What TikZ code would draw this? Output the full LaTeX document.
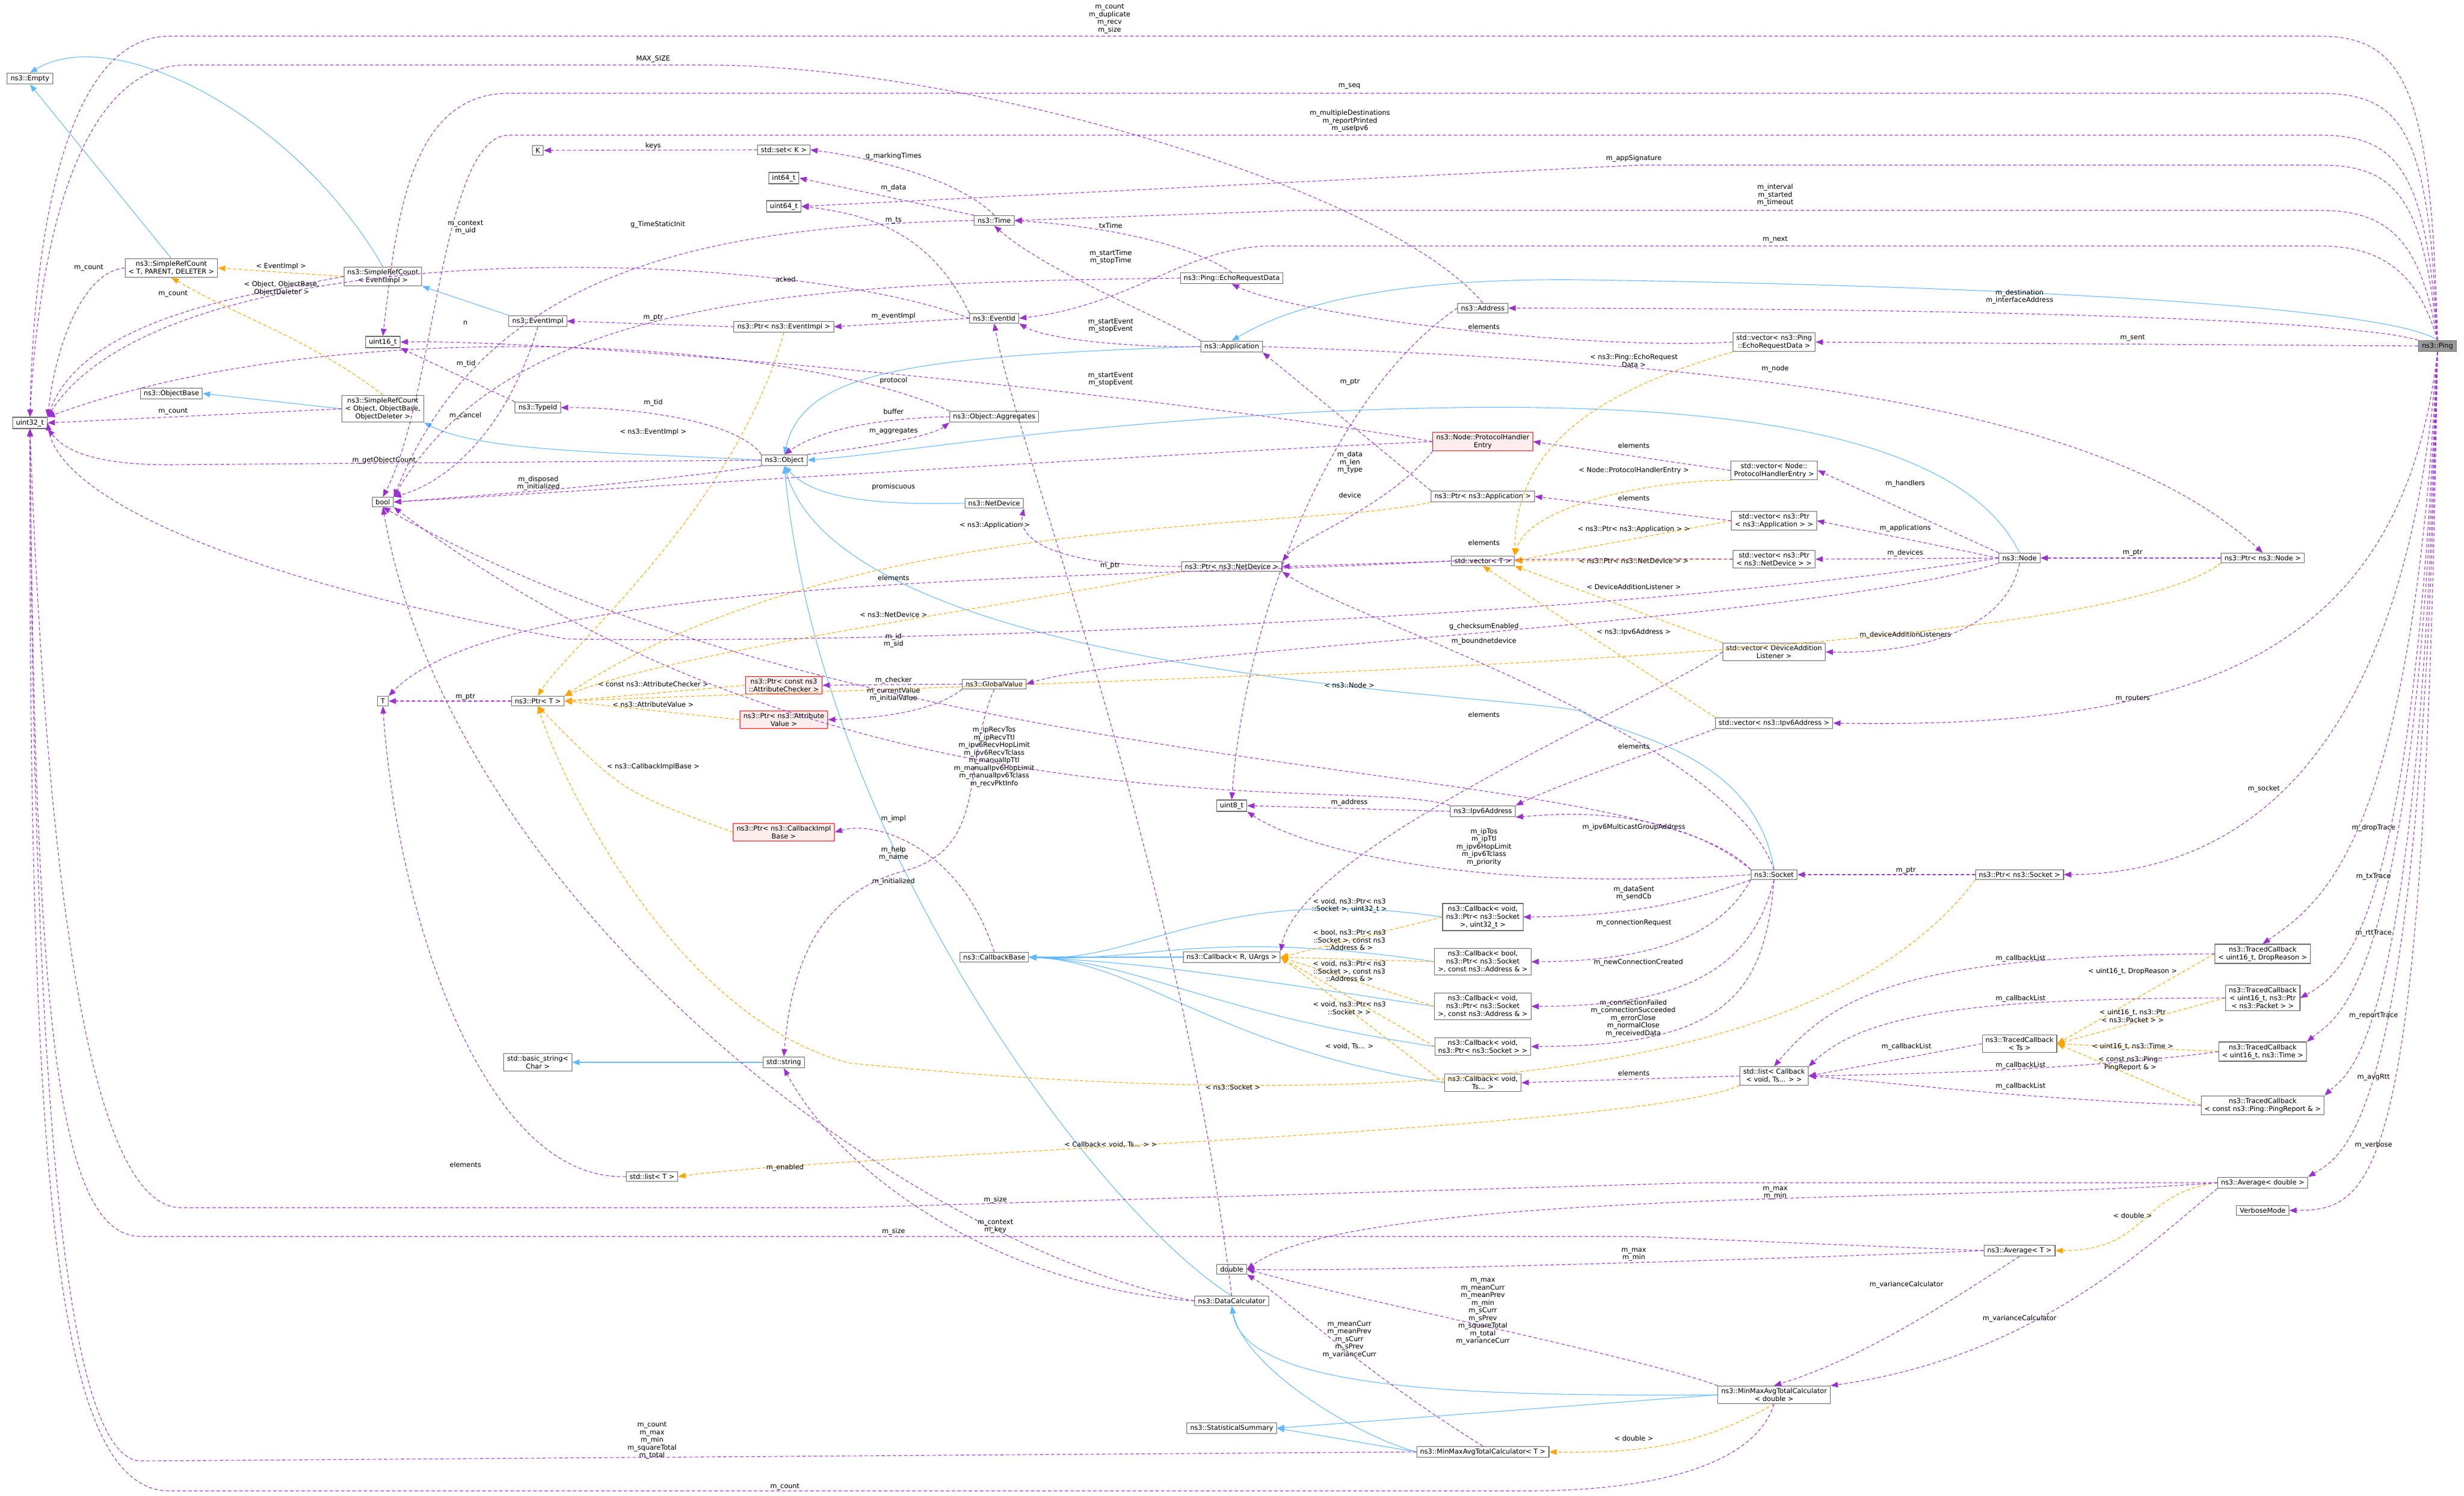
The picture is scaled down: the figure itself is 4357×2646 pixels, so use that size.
\documentclass[tikz,border=0pt]{standalone}
\usepackage{fontspec}
\setmainfont{DejaVu Sans}
\usetikzlibrary{arrows.meta}
\definecolor{pur}{HTML}{9A32CD}
\definecolor{blu}{HTML}{63B8FF}
\definecolor{org}{HTML}{FFA500}
\tikzset{
 cls/.style={draw=black!60, fill=white, line width=1.1pt, font=\fontsize{12}{14}\selectfont, inner xsep=6pt, inner ysep=4pt, align=center},
 redc/.style={cls, draw=red, fill=red!7},
 pingc/.style={cls, fill=black!40},
 usesl/.style={draw=pur, line width=1.1pt, dash pattern=on 6pt off 4pt, -{Triangle[length=13pt,width=10pt]}},
 inh/.style={draw=blu, line width=1.1pt, -{Triangle[length=13pt,width=10pt]}},
 tpl/.style={draw=org, line width=1.1pt, dash pattern=on 6pt off 4pt, -{Triangle[length=13pt,width=10pt]}},
 lbl/.style={font=\fontsize{12}{13.5}\selectfont, align=center, inner sep=1pt},
}
\begin{document}
\begin{tikzpicture}[x=1pt,y=-1pt]
\useasboundingbox (0,0) rectangle (4357,2646);
% nodes
\node[cls] (empty) at (53,139) {ns3::Empty};
\node[cls] (u32) at (53,748) {uint32\_t};
\node[cls] (srcT) at (303,474) {ns3::SimpleRefCount\\< T, PARENT, DELETER >};
\node[cls] (srcE) at (677,489) {ns3::SimpleRefCount\\< EventImpl >};
\node[cls] (objbase) at (303,696) {ns3::ObjectBase};
\node[cls] (srcO) at (677,723) {ns3::SimpleRefCount\\< Object, ObjectBase,\\ ObjectDeleter >};
\node[cls] (u16) at (677,605) {uint16\_t};
\node[cls] (evimpl) at (951,568) {ns3::EventImpl};
\node[cls] (typeid) at (951,721) {ns3::TypeId};
\node[cls] (bool) at (677,888) {bool};
\node[cls] (object) at (1387,814) {ns3::Object};
\node[cls] (K) at (951,266) {K};
\node[cls] (setK) at (1386,265) {std::set< K >};
\node[cls] (i64) at (1386,315) {int64\_t};
\node[cls] (u64) at (1386,365) {uint64\_t};
\node[cls] (ptrEv) at (1386,578) {ns3::Ptr< ns3::EventImpl >};
\node[cls] (time) at (1758,390) {ns3::Time};
\node[cls] (echo) at (2178,492) {ns3::Ping::EchoRequestData};
\node[cls] (evid) at (1758,563) {ns3::EventId};
\node[cls] (app) at (2178,613) {ns3::Application};
\node[cls] (addr) at (2622,545) {ns3::Address};
\node[cls] (aggr) at (1758,737) {ns3::Object::Aggregates};
\node[redc] (phe) at (2622,781) {ns3::Node::ProtocolHandler\\Entry};
\node[cls] (ptrApp) at (2622,878) {ns3::Ptr< ns3::Application >};
\node[cls] (netdev) at (1758,890) {ns3::NetDevice};
\node[cls] (vecT) at (2622,992) {std::vector< T >};
\node[cls] (vecEcho) at (3137,605) {std::vector< ns3::Ping\\::EchoRequestData >};
\node[pingc] (ping) at (4310,612) {ns3::Ping};
\node[cls] (vecPhe) at (3137,832) {std::vector< Node::\\ProtocolHandlerEntry >};
\node[cls] (vecApp) at (3137,921) {std::vector< ns3::Ptr\\< ns3::Application > >};
\node[cls] (vecDev) at (3137,989) {std::vector< ns3::Ptr\\< ns3::NetDevice > >};
\node[cls] (node) at (3571,987) {ns3::Node};
\node[cls] (ptrNode) at (4001,987) {ns3::Ptr< ns3::Node >};
\node[cls] (T) at (677,1240) {T};
\node[cls] (ptrT) at (951,1240) {ns3::Ptr< T >};
\node[redc] (ptrChk) at (1386,1212) {ns3::Ptr< const ns3\\::AttributeChecker >};
\node[redc] (ptrVal) at (1386,1273) {ns3::Ptr< ns3::Attribute\\Value >};
\node[redc] (ptrCIB) at (1386,1472) {ns3::Ptr< ns3::CallbackImpl\\Base >};
\node[cls] (bstr) at (951,1879) {std::basic\_string<\\Char >};
\node[cls] (str) at (1386,1879) {std::string};
\node[cls] (listT) at (1153,2081) {std::list< T >};
\node[cls] (ptrDev) at (2178,1002) {ns3::Ptr< ns3::NetDevice >};
\node[cls] (gv) at (1758,1210) {ns3::GlobalValue};
\node[cls] (u8) at (2178,1425) {uint8\_t};
\node[cls] (ipv6) at (2622,1435) {ns3::Ipv6Address};
\node[cls] (cbb) at (1758,1693) {ns3::CallbackBase};
\node[cls] (cbR) at (2178,1693) {ns3::Callback< R, UArgs >};
\node[cls] (cb1) at (2622,1622) {ns3::Callback< void,\\ ns3::Ptr< ns3::Socket\\ >, uint32\_t >};
\node[cls] (cb2) at (2622,1701) {ns3::Callback< bool,\\ ns3::Ptr< ns3::Socket\\ >, const ns3::Address \& >};
\node[cls] (cb3) at (2622,1780) {ns3::Callback< void,\\ ns3::Ptr< ns3::Socket\\ >, const ns3::Address \& >};
\node[cls] (cb4) at (2622,1851) {ns3::Callback< void,\\ ns3::Ptr< ns3::Socket > >};
\node[cls] (cb5) at (2622,1915) {ns3::Callback< void,\\ Ts... >};
\node[cls] (dbl) at (2178,2245) {double};
\node[cls] (dcalc) at (2178,2301) {ns3::DataCalculator};
\node[cls] (stat) at (2178,2526) {ns3::StatisticalSummary};
\node[cls] (mmT) at (2622,2568) {ns3::MinMaxAvgTotalCalculator< T >};
\node[cls] (vecDal) at (3137,1153) {std::vector< DeviceAddition\\Listener >};
\node[cls] (vecIp6) at (3137,1279) {std::vector< ns3::Ipv6Address >};
\node[cls] (socket) at (3137,1547) {ns3::Socket};
\node[cls] (ptrSock) at (3571,1547) {ns3::Ptr< ns3::Socket >};
\node[cls] (tcDrop) at (4001,1687) {ns3::TracedCallback\\< uint16\_t, DropReason >};
\node[cls] (tcPkt) at (4001,1765) {ns3::TracedCallback\\< uint16\_t, ns3::Ptr\\< ns3::Packet > >};
\node[cls] (tcTs) at (3571,1846) {ns3::TracedCallback\\< Ts >};
\node[cls] (tcTime) at (4001,1860) {ns3::TracedCallback\\< uint16\_t, ns3::Time >};
\node[cls] (listCb) at (3137,1903) {std::list< Callback\\< void, Ts... > >};
\node[cls] (tcRep) at (4001,1955) {ns3::TracedCallback\\< const ns3::Ping::PingReport \& >};
\node[cls] (avgD) at (4001,2092) {ns3::Average< double >};
\node[cls] (verb) at (4001,2141) {VerboseMode};
\node[cls] (avgT) at (3571,2212) {ns3::Average< T >};
\node[cls] (mmD) at (3137,2467) {ns3::MinMaxAvgTotalCalculator\\< double >};

% inheritance
\draw[inh] (srcT.north) -- (empty.south);
\draw[inh] (srcE.north) .. controls (520,200) and (200,40) .. (empty.north);
\draw[inh] (evimpl.north west) -- (srcE.south east);
\draw[inh] (srcO.west) -- (objbase.east);
\draw[inh] (object.west) .. controls (1100,800) and (850,800) .. (srcO.south east);
\draw[inh] (app.west) .. controls (1600,630) and (1420,660) .. (object.north);
\draw[inh] (node.north) .. controls (3450,730) and (2900,700) .. (2300,730) .. controls (1800,760) and (1600,800) .. (object.east);
\draw[inh] (netdev.west) .. controls (1500,895) and (1430,870) .. (object.south);
\draw[inh] (socket.north) .. controls (3100,1320) and (2850,1300) .. (2800,1260) .. controls (2750,1230) and (1500,1210) .. (object.south);
\draw[inh] (dcalc.north) .. controls (1950,2150) and (1450,1500) .. (object.south);
\draw[inh] (ping.north) .. controls (4220,540) and (3500,505) .. (2800,495) .. controls (2400,490) and (2250,560) .. (app.north);
\draw[inh] (cbR.west) -- (cbb.east);
\foreach \c in {cb1,cb2,cb3,cb4,cb5} \draw[inh] (\c.west) .. controls +(-400,-60) and +(200,10) .. (cbb.east);
\draw[inh] (str.west) -- (bstr.east);
\draw[inh] (mmD.west) .. controls (2600,2470) and (2200,2460) .. (dcalc.south);
\draw[inh] (mmD.west) -- (stat.east);
\draw[inh] (mmT.west) .. controls (2400,2540) and (2200,2420) .. (dcalc.south);
\draw[inh] (mmT.west) -- (stat.east);

% templates
\draw[tpl] (srcE.west) -- (srcT.east);
\draw[tpl] (srcO.north) .. controls (550,600) and (420,560) .. (srcT.south);
\draw[tpl] (ptrEv.south) .. controls (1300,900) and (1000,1150) .. (ptrT.north);
\draw[tpl] (ptrChk.west) -- (ptrT.east);
\draw[tpl] (ptrVal.west) -- (ptrT.east);
\draw[tpl] (ptrCIB.west) .. controls (1100,1400) .. (ptrT.south);
\draw[tpl] (ptrApp.south west) .. controls (2300,940) and (1500,900) .. (ptrT.north east);
\draw[tpl] (ptrDev.south west) .. controls (1800,1070) and (1200,1150) .. (ptrT.north east);
\draw[tpl] (ptrNode.south west) .. controls (3700,1170) and (2000,1200) .. (ptrT.east);
\draw[tpl] (ptrSock.south west) .. controls (3200,1950) and (2300,1960) .. (1500,1880) .. controls (1200,1800) and (1000,1400) .. (ptrT.south);
\draw[tpl] (vecEcho.south west) .. controls (2800,700) and (2680,800) .. (vecT.north east);
\draw[tpl] (vecPhe.south west) .. controls (2900,850) and (2700,900) .. (vecT.north east);
\draw[tpl] (vecApp.west) -- (vecT.east);
\draw[tpl] (vecDev.west) -- (vecT.east);
\draw[tpl] (vecDal.north west) -- (vecT.south east);
\draw[tpl] (vecIp6.north west) -- (vecT.south);
\foreach \c in {cb1,cb2,cb3,cb4,cb5} \draw[tpl] (\c.west) -- (cbR.east);
\draw[tpl] (listCb.south west) .. controls (2900,2000) and (1500,2040) .. (listT.east);
\foreach \c in {tcDrop,tcPkt,tcTime,tcRep} \draw[tpl] (\c.west) -- (tcTs.east);
\draw[tpl] (avgD.west) .. controls (3780,2110) and (3800,2212) .. (avgT.east);
\draw[tpl] (mmD.south) .. controls (3000,2560) and (2900,2570) .. (mmT.east);

% uses: ping top routes
\draw[usesl] (ping.north) .. controls (4300,150) and (4250,64) .. (4100,64) -- (300,64) .. controls (120,64) and (60,400) .. (u32.north);
\draw[usesl] (addr.north) .. controls (2450,330) and (1700,115) .. (1250,115) -- (330,115) .. controls (150,115) and (70,400) .. (u32.north);
\draw[usesl] (ping.north) .. controls (4295,230) and (4250,165) .. (4100,165) -- (900,165) .. controls (720,165) and (700,400) .. (u16.north);
\draw[usesl] (ping.north) .. controls (4290,300) and (4240,239) .. (4100,239) -- (900,239) .. controls (780,239) and (770,700) .. (bool.north);
\draw[usesl] (ping.north) .. controls (4285,340) and (4230,292) .. (4100,292) -- (2900,292) -- (u64.east);
\draw[usesl] (ping.north) .. controls (4280,420) and (4220,372) .. (4100,372) -- (2300,372) -- (time.east);
\draw[usesl] (ping.north) .. controls (4275,480) and (4210,435) .. (4100,435) -- (2250,435) .. controls (2100,435) and (2000,540) .. (evid.east);
\draw[usesl] (ping.north west) .. controls (4150,565) and (3500,545) .. (addr.east);
\draw[usesl] (ping.west) -- (vecEcho.east);
\draw[usesl] (ping.south) .. controls (4250,1150) and (3900,1290) .. (vecIp6.east);
\draw[usesl] (ping.south) .. controls (4250,1420) and (3900,1545) .. (ptrSock.east);
\draw[usesl] (ping.south) .. controls (4265,1500) and (4100,1600) .. (tcDrop.north);
\draw[usesl] (ping.south) .. controls (4270,1620) and (4150,1720) .. (tcPkt.east);
\draw[usesl] (ping.south) .. controls (4275,1760) and (4130,1800) .. (tcTime.north east);
\draw[usesl] (ping.south) .. controls (4280,1860) and (4150,1900) .. (tcRep.north east);
\draw[usesl] (ping.south) .. controls (4285,1980) and (4150,2040) .. (avgD.north east);
\draw[usesl] (ping.south) .. controls (4290,2100) and (4200,2140) .. (verb.east);
% uses: others
\draw[usesl] (srcT.west) .. controls (150,480) and (100,600) .. (u32.north east);
\draw[usesl] (srcE.west) .. controls (450,520) and (150,560) .. (u32.north east);
\draw[usesl] (srcO.west) -- (u32.east);
\draw[usesl] (object.west) -- (300,822) .. controls (150,822) and (110,790) .. (u32.south east);
\draw[usesl] (object.south west) .. controls (1100,860) and (800,880) .. (bool.east);
\draw[usesl] (object.north west) .. controls (1300,740) and (1100,720) .. (typeid.east);
\draw[usesl] (typeid.north west) -- (u16.south east);
\draw[usesl] (object.north east) .. controls (1550,790) and (1650,770) .. (aggr.south west);
\draw[usesl] (aggr.west) .. controls (1550,740) and (1450,760) .. (object.north);
\draw[usesl] (aggr.north west) .. controls (1400,600) and (600,550) .. (u32.north east);
\draw[usesl] (evimpl.south) .. controls (900,750) and (800,850) .. (bool.north east);
\draw[usesl] (ptrEv.west) -- (evimpl.east);
\draw[usesl] (evid.west) -- (ptrEv.east);
\draw[usesl] (evid.north west) .. controls (1650,420) and (1550,380) .. (u64.east);
\draw[usesl] (evid.west) .. controls (1400,440) and (300,400) .. (u32.north east);
\draw[usesl] (time.west) .. controls (1200,400) and (850,500) .. (bool.north east);
\draw[usesl] (time.north west) -- (i64.east);
\draw[usesl] (time.north) .. controls (1700,320) and (1550,280) .. (setK.east);
\draw[usesl] (setK.west) -- (K.east);
\draw[usesl] (echo.north) .. controls (2100,430) and (1950,400) .. (time.east);
\draw[usesl] (echo.west) .. controls (1400,500) and (900,530) .. (bool.north east);
\draw[usesl] (app.north west) .. controls (2050,560) and (1850,480) .. (time.south);
\draw[usesl] (app.west) .. controls (2000,615) and (1850,600) .. (evid.south east);
\draw[usesl] (app.east) .. controls (3000,640) and (3700,700) .. (ptrNode.north);
\draw[usesl] (ptrApp.north west) -- (app.south east);
\draw[usesl] (phe.west) .. controls (2000,690) and (1000,600) .. (u16.east);
\draw[usesl] (phe.west) .. controls (2100,800) and (1000,870) .. (bool.east);
\draw[usesl] (phe.south west) .. controls (2450,900) and (2300,950) .. (ptrDev.north east);
\draw[usesl] (vecPhe.west) -- (phe.east);
\draw[usesl] (vecApp.west) -- (ptrApp.east);
\draw[usesl] (vecDev.west) .. controls (2700,985) and (2500,995) .. (ptrDev.east);
\draw[usesl] (vecEcho.west) .. controls (2800,620) and (2300,560) .. (echo.south);
\draw[usesl] (ptrDev.west) .. controls (1850,1000) and (1800,950) .. (netdev.south east);
\draw[usesl] (addr.west) .. controls (2350,700) and (2200,1100) .. (u8.north);
\draw[usesl] (vecT.west) .. controls (2000,1025) and (900,1010) .. (T.north east);
\draw[usesl] (node.north west) -- (vecPhe.east);
\draw[usesl] (node.west) -- (vecApp.east);
\draw[usesl] (node.west) -- (vecDev.east);
\draw[usesl] (node.south) .. controls (3540,1150) and (3300,1155) .. (vecDal.east);
\draw[usesl] (node.west) .. controls (2800,1100) and (1500,1140) .. (1000,1130) .. controls (300,1000) and (100,850) .. (u32.east);
\draw[usesl] (node.south west) .. controls (3200,1100) and (2000,1150) .. (gv.east);
\draw[usesl] (ptrNode.west) -- (node.east);
\draw[usesl] (ptrT.west) -- (T.east);
\draw[usesl] (listT.west) .. controls (850,2090) and (700,1600) .. (T.south);
\draw[usesl] (gv.west) -- (ptrChk.east);
\draw[usesl] (gv.south west) .. controls (1650,1260) and (1550,1270) .. (ptrVal.east);
\draw[usesl] (gv.south) .. controls (1700,1350) and (1750,1500) .. (1600,1540) .. controls (1450,1580) and (1400,1700) .. (str.north);
\draw[usesl] (cbb.north) .. controls (1700,1500) and (1550,1450) .. (ptrCIB.east);
\draw[usesl] (ipv6.west) -- (u8.east);
\draw[usesl] (ipv6.north west) .. controls (2400,1370) and (1500,1500) .. (bool.south east);
\draw[usesl] (socket.north west) .. controls (2950,1420) and (2750,1440) .. (ipv6.south east);
\draw[usesl] (socket.west) .. controls (2600,1580) and (2300,1500) .. (u8.south east);
\draw[usesl] (socket.north west) .. controls (2900,1330) and (1600,1410) .. (bool.south);
\draw[usesl] (socket.north) .. controls (3050,1300) and (2400,1100) .. (ptrDev.south east);
\draw[usesl] (socket.south west) .. controls (3000,1590) and (2900,1620) .. (cb1.east);
\draw[usesl] (socket.south west) .. controls (3050,1640) and (2950,1700) .. (cb2.east);
\draw[usesl] (socket.south) .. controls (3100,1700) and (3000,1780) .. (cb3.east);
\draw[usesl] (socket.south) .. controls (3120,1760) and (3050,1850) .. (cb4.east);
\draw[usesl] (ptrSock.west) -- (socket.east);
\draw[usesl] (vecDal.west) .. controls (2900,1250) and (2300,1500) .. (cbR.north east);
\draw[usesl] (vecIp6.south west) .. controls (2950,1320) and (2750,1390) .. (ipv6.north east);
\draw[usesl] (listCb.west) -- (cb5.east);
\draw[usesl] (tcDrop.west) .. controls (3400,1690) and (3250,1750) .. (listCb.north);
\draw[usesl] (tcPkt.west) .. controls (3500,1766) and (3300,1790) .. (listCb.north east);
\draw[usesl] (tcTs.west) -- (listCb.east);
\draw[usesl] (tcTime.west) .. controls (3700,1890) and (3400,1900) .. (listCb.east);
\draw[usesl] (tcRep.west) .. controls (3600,1945) and (3400,1920) .. (listCb.east);
\draw[usesl] (avgD.west) -- (3000,2092) -- (1500,2136) -- (320,2136) .. controls (150,2136) and (80,1500) .. (u32.south);
\draw[usesl] (avgT.west) -- (2900,2187) -- (250,2187) .. controls (100,2187) and (62,1800) .. (u32.south);
\draw[usesl] (avgD.west) .. controls (3500,2126) and (2400,2100) .. (dbl.east);
\draw[usesl] (avgT.west) .. controls (3200,2225) and (2400,2250) .. (dbl.east);
\draw[usesl] (avgD.south west) .. controls (3800,2200) and (3600,2400) .. (mmD.north east);
\draw[usesl] (avgT.south) .. controls (3450,2300) and (3300,2400) .. (mmD.north);
\draw[usesl] (mmT.west) -- (250,2584) .. controls (120,2584) and (60,2000) .. (u32.south);
\draw[usesl] (mmD.south) .. controls (3100,2600) and (2900,2637) .. (2700,2637) -- (300,2637) .. controls (100,2637) and (50,2100) .. (u32.south);
\draw[usesl] (mmD.north west) .. controls (2900,2400) and (2400,2300) .. (dbl.east);
\draw[usesl] (mmT.north) .. controls (2400,2420) and (2280,2300) .. (dbl.south east);
\draw[usesl] (dcalc.west) .. controls (1600,2200) and (800,1600) .. (bool.south);
\draw[usesl] (dcalc.west) .. controls (1800,2280) and (1500,2100) .. (str.south);
\draw[usesl] (dcalc.north) .. controls (2080,1500) and (1800,800) .. (evid.south);

% labels
\node[lbl] (l1) at (1962,33) {m\_count\\m\_duplicate\\m\_recv\\m\_size};
\node[lbl] (l2) at (1155,104) {MAX\_SIZE};
\node[lbl] (l3) at (2386,153) {m\_seq};
\node[lbl] (l4) at (2387,214) {m\_multipleDestinations\\m\_reportPrinted\\m\_useIpv6};
\node[lbl] (l5) at (2889,280) {m\_appSignature};
\node[lbl] (l6) at (3139,345) {m\_interval\\m\_started\\m\_timeout};
\node[lbl] (l7) at (3139,424) {m\_next};
\node[lbl] (l8) at (3571,525) {m\_destination\\m\_interfaceAddress};
\node[lbl] (l9) at (3771,598) {m\_sent};
\node[lbl] (l10) at (3139,652) {m\_node};
\node[lbl] (l11) at (3369,855) {m\_handlers};
\node[lbl] (l12) at (3369,934) {m\_applications};
\node[lbl] (l13) at (3369,978) {m\_devices};
\node[lbl] (l14) at (3771,978) {m\_ptr};
\node[lbl] (l15) at (157,474) {m\_count};
\node[lbl] (l16) at (497,471) {< EventImpl >};
\node[lbl] (l17) at (498,510) {< Object, ObjectBase,\\ObjectDeleter >};
\node[lbl] (l18) at (306,520) {m\_count};
\node[lbl] (l19) at (306,728) {m\_count};
\node[lbl] (l20) at (679,814) {m\_getObjectCount};
\node[lbl] (l21) at (952,855) {m\_disposed\\m\_initialized};
\node[lbl] (l22) at (824,643) {m\_tid};
\node[lbl] (l23) at (1155,712) {m\_tid};
\node[lbl] (l24) at (1155,764) {< ns3::EventImpl >};
\node[lbl] (l25) at (823,735) {m\_cancel};
\node[lbl] (l26) at (1155,562) {m\_ptr};
\node[lbl] (l27) at (1389,494) {acked};
\node[lbl] (l28) at (1163,397) {g\_TimeStaticInit};
\node[lbl] (l29) at (823,402) {m\_context\\m\_uid};
\node[lbl] (l30) at (823,571) {n};
\node[lbl] (l31) at (1155,258) {keys};
\node[lbl] (l32) at (1580,276) {g\_markingTimes};
\node[lbl] (l33) at (1580,332) {m\_data};
\node[lbl] (l34) at (1580,390) {m\_ts};
\node[lbl] (l35) at (1964,399) {txTime};
\node[lbl] (l36) at (1964,455) {m\_startTime\\m\_stopTime};
\node[lbl] (l37) at (1580,559) {m\_eventImpl};
\node[lbl] (l38) at (1964,576) {m\_startEvent\\m\_stopEvent};
\node[lbl] (l39) at (1964,671) {m\_startEvent\\m\_stopEvent};
\node[lbl] (l40) at (2387,676) {m\_ptr};
\node[lbl] (l41) at (2624,578) {elements};
\node[lbl] (l42) at (2889,638) {< ns3::Ping::EchoRequest\\Data >};
\node[lbl] (l43) at (1580,673) {protocol};
\node[lbl] (l44) at (1580,728) {buffer};
\node[lbl] (l45) at (1580,763) {m\_aggregates};
\node[lbl] (l46) at (2889,788) {elements};
\node[lbl] (l47) at (2889,832) {< Node::ProtocolHandlerEntry >};
\node[lbl] (l48) at (2387,818) {m\_data\\m\_len\\m\_type};
\node[lbl] (l49) at (2387,876) {device};
\node[lbl] (l50) at (1580,861) {promiscuous};
\node[lbl] (l51) at (2889,881) {elements};
\node[lbl] (l52) at (1759,929) {< ns3::Application >};
\node[lbl] (l53) at (2889,936) {< ns3::Ptr< ns3::Application > >};
\node[lbl] (l54) at (2624,960) {elements};
\node[lbl] (l55) at (1963,1001) {m\_ptr};
\node[lbl] (l56) at (1580,1022) {elements};
\node[lbl] (l57) at (1580,1087) {< ns3::NetDevice >};
\node[lbl] (l58) at (1580,1133) {m\_id\\m\_sid};
\node[lbl] (l59) at (1580,1203) {m\_checker};
\node[lbl] (l60) at (1580,1229) {m\_currentValue\\m\_initialValue};
\node[lbl] (l61) at (1758,1339) {m\_ipRecvTos\\m\_ipRecvTtl\\m\_ipv6RecvHopLimit\\m\_ipv6RecvTclass\\m\_manualIpTtl\\m\_manualIpv6HopLimit\\m\_manualIpv6Tclass\\m\_recvPktInfo};
\node[lbl] (l62) at (1580,1448) {m\_impl};
\node[lbl] (l63) at (1580,1510) {m\_help\\m\_name};
\node[lbl] (l64) at (2889,992) {< ns3::Ptr< ns3::NetDevice > >};
\node[lbl] (l65) at (2889,1038) {< DeviceAdditionListener >};
\node[lbl] (l66) at (2624,1108) {g\_checksumEnabled};
\node[lbl] (l67) at (2889,1118) {< ns3::Ipv6Address >};
\node[lbl] (l68) at (2624,1134) {m\_boundnetdevice};
\node[lbl] (l69) at (3369,1123) {m\_deviceAdditionListeners};
\node[lbl] (l70) at (2386,1212) {< ns3::Node >};
\node[lbl] (l71) at (2624,1264) {elements};
\node[lbl] (l72) at (2889,1320) {elements};
\node[lbl] (l73) at (2386,1419) {m\_address};
\node[lbl] (l74) at (2624,1498) {m\_ipTos\\m\_ipTtl\\m\_ipv6HopLimit\\m\_ipv6Tclass\\m\_priority};
\node[lbl] (l75) at (2889,1463) {m\_ipv6MulticastGroupAddress};
\node[lbl] (l76) at (3370,1540) {m\_ptr};
\node[lbl] (l77) at (2889,1580) {m\_dataSent\\m\_sendCb};
\node[lbl] (l78) at (2889,1632) {m\_connectionRequest};
\node[lbl] (l79) at (2386,1602) {< void, ns3::Ptr< ns3\\::Socket >, uint32\_t >};
\node[lbl] (l80) at (2386,1663) {< bool, ns3::Ptr< ns3\\::Socket >, const ns3\\::Address \& >};
\node[lbl] (l81) at (2386,1718) {< void, ns3::Ptr< ns3\\::Socket >, const ns3\\::Address \& >};
\node[lbl] (l82) at (2386,1783) {< void, ns3::Ptr< ns3\\::Socket > >};
\node[lbl] (l83) at (2386,1851) {< void, Ts... >};
\node[lbl] (l84) at (2897,1702) {m\_newConnectionCreated};
\node[lbl] (l85) at (2888,1801) {m\_connectionFailed\\m\_connectionSucceeded\\m\_errorClose\\m\_normalClose\\m\_receivedData};
\node[lbl] (l86) at (2889,1898) {elements};
\node[lbl] (l87) at (2180,1923) {< ns3::Socket >};
\node[lbl] (l88) at (1964,2025) {< Callback< void, Ts... > >};
\node[lbl] (l89) at (1760,2122) {m\_size};
\node[lbl] (l90) at (1760,2169) {m\_context\\m\_key};
\node[lbl] (l91) at (1580,2178) {m\_size};
\node[lbl] (l92) at (1580,1559) {m\_initialized};
\node[lbl] (l93) at (2889,2219) {m\_max\\m\_min};
\node[lbl] (l94) at (2622,2320) {m\_max\\m\_meanCurr\\m\_meanPrev\\m\_min\\m\_sCurr\\m\_sPrev\\m\_squareTotal\\m\_total\\m\_varianceCurr};
\node[lbl] (l95) at (2386,2369) {m\_meanCurr\\m\_meanPrev\\m\_sCurr\\m\_sPrev\\m\_varianceCurr};
\node[lbl] (l96) at (2889,2544) {< double >};
\node[lbl] (l97) at (823,1233) {m\_ptr};
\node[lbl] (l98) at (1155,1210) {< const ns3::AttributeChecker >};
\node[lbl] (l99) at (1155,1246) {< ns3::AttributeValue >};
\node[lbl] (l100) at (1155,1356) {< ns3::CallbackImplBase >};
\node[lbl] (l101) at (823,2060) {elements};
\node[lbl] (l102) at (1388,2065) {m\_enabled};
\node[lbl] (l103) at (1153,2548) {m\_count\\m\_max\\m\_min\\m\_squareTotal\\m\_total};
\node[lbl] (l104) at (1388,2630) {m\_count};
\node[lbl] (l105) at (3771,1236) {m\_routers};
\node[lbl] (l106) at (4003,1395) {m\_socket};
\node[lbl] (l107) at (4197,1464) {m\_dropTrace};
\node[lbl] (l108) at (4197,1551) {m\_txTrace};
\node[lbl] (l109) at (4197,1651) {m\_rttTrace};
\node[lbl] (l110) at (4197,1797) {m\_reportTrace};
\node[lbl] (l111) at (4197,1906) {m\_avgRtt};
\node[lbl] (l112) at (4197,2025) {m\_verbose};
\node[lbl] (l113) at (3573,1695) {m\_callbackList};
\node[lbl] (l114) at (3771,1718) {< uint16\_t, DropReason >};
\node[lbl] (l115) at (3573,1766) {m\_callbackList};
\node[lbl] (l116) at (3771,1797) {< uint16\_t, ns3::Ptr\\< ns3::Packet > >};
\node[lbl] (l117) at (3371,1851) {m\_callbackList};
\node[lbl] (l118) at (3771,1851) {< uint16\_t, ns3::Time >};
\node[lbl] (l119) at (3767,1881) {< const ns3::Ping::\\PingReport \& >};
\node[lbl] (l120) at (3573,1884) {m\_callbackList};
\node[lbl] (l121) at (3573,1921) {m\_callbackList};
\node[lbl] (l122) at (3139,2110) {m\_max\\m\_min};
\node[lbl] (l123) at (3771,2150) {< double >};
\node[lbl] (l124) at (3371,2272) {m\_varianceCalculator};
\node[lbl] (l125) at (3571,2332) {m\_varianceCalculator};
\end{tikzpicture}
\end{document}
